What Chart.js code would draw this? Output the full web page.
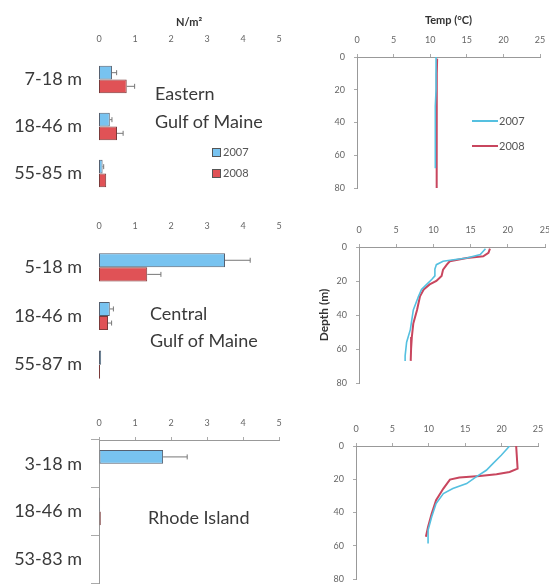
<!DOCTYPE html>
<html>
<head>
<meta charset="utf-8">
<script src="https://cdn.jsdelivr.net/npm/chart.js@4.4.0/dist/chart.umd.min.js"></script>
<style>
body { margin: 0; background: #fff; width: 549px; height: 586px; position: relative; overflow: hidden; font-family: Lato, sans-serif; }
canvas { position: absolute; }
.note { position: absolute; font-size: 18px; color: #3a3a3a; line-height: 1; white-space: nowrap; }
.leg { position: absolute; font-size: 11px; color: #555; line-height: 1; white-space: nowrap; }
.sq { display: inline-block; width: 7px; height: 7px; border: 1px solid #555; vertical-align: -1px; margin-right: 2px; }
.ln { display: inline-block; width: 26px; height: 2px; vertical-align: 3px; margin-right: 1px; }
</style>
</head>
<body>
<canvas id="east" width="290" height="200" style="left:0;top:0"></canvas>
<canvas id="central" width="290" height="192" style="left:0;top:200px"></canvas>
<canvas id="rhode" width="290" height="191" style="left:0;top:395px"></canvas>
<canvas id="eastT" width="249" height="195" style="left:300px;top:0"></canvas>
<canvas id="centralT" width="249" height="190" style="left:300px;top:200px"></canvas>
<canvas id="rhodeT" width="249" height="191" style="left:300px;top:395px"></canvas>

<div class="note" style="left:155px;top:84px">Eastern</div>
<div class="note" style="left:155px;top:112px">Gulf of Maine</div>
<div class="note" style="left:150px;top:304px">Central</div>
<div class="note" style="left:150px;top:331px">Gulf of Maine</div>
<div class="note" style="left:148px;top:508px">Rhode Island</div>

<div class="leg" style="left:212px;top:146px"><span class="sq" style="background:#78c3f0"></span>2007</div>
<div class="leg" style="left:212px;top:167px"><span class="sq" style="background:#e05256"></span>2008</div>
<div class="leg" style="left:472px;top:115px"><span class="ln" style="background:#55c0e0"></span>2007</div>
<div class="leg" style="left:472px;top:140px"><span class="ln" style="background:#c8465e"></span>2008</div>

<script>
const years = ['2007', '2008'];
const densityTicks = [0, 5];
const tempTicks = [0, 25];
const depthTicks = [0, 80];

// N/m2 by depth stratum
const eastDepths = ['7-18 m', '18-46 m', '55-85 m'];
const east2007 = [0.36, 0.3, 0.1];
const east2008 = [0.77, 0.5, 0.2];
const eastErr2007 = [0.13, 0.06, 0.03];
const eastErr2008 = [0.22, 0.17, 0];

const centralDepths = ['5-18 m', '18-46 m', '55-87 m'];
const central2007 = [3.5, 0.3, 0.06];
const central2008 = [1.34, 0.25, 0.03];
const centralErr2007 = [0.7, 0.1, 0];
const centralErr2008 = [0.38, 0.1, 0];

const rhodeDepths = ['3-18 m', '18-46 m', '53-83 m'];
const rhode2007 = [1.78, 0.03, 0];
const rhode2008 = [0, 0.05, 0];
const rhodeErr2007 = [0.67, 0, 0];
const rhodeErr2008 = [0, 0, 0];

// temperature profiles (depth m, temp C)
const eastDepth2007 = [0, 10, 20, 30, 40, 50, 60, 68];
const eastTemp2007 = [10.8, 10.8, 10.8, 10.7, 10.7, 10.7, 10.7, 10.7];
const eastDepth2008 = [1, 10, 20, 30, 40, 50, 60, 70, 80];
const eastTemp2008 = [10.95, 10.9, 10.9, 10.9, 10.9, 10.85, 10.85, 10.9, 10.9];

const centralDepth2007 = [1, 4.5, 6.5, 7.5, 8.4, 10.4, 13, 17, 19, 22, 25, 29, 37, 48.6, 56, 64, 67];
const centralTemp2007 = [17, 16.3, 14.5, 12.7, 11.3, 10.4, 10.2, 10.2, 9.8, 9.1, 8.4, 8.0, 7.3, 6.9, 6.4, 6.2, 6.2];
const centralDepth2008 = [1, 3.5, 5.5, 6.5, 8.4, 10.4, 13.3, 17, 20, 22, 25, 29, 37, 45, 53, 60, 67];
const centralTemp2008 = [17.6, 17.4, 16.7, 14.5, 12.2, 11.8, 11.3, 11.1, 10.4, 9.5, 8.7, 8.2, 7.8, 7.3, 7.1, 7.0, 6.95];

const rhodeDepth2007 = [0, 5.6, 10.6, 14.6, 18.6, 22.6, 25.6, 28.6, 34.6, 42.6, 50.6, 56.6, 58.6];
const rhodeTemp2007 = [21.1, 19.95, 18.8, 17.9, 16.5, 15.2, 13.3, 12.0, 11.0, 10.4, 9.9, 9.9, 9.9];
const rhodeDepth2008 = [0, 13.6, 15.6, 17, 18, 19, 20.2, 25.6, 32.6, 40.6, 48.6, 52.6, 54.6];
const rhodeTemp2008 = [22.0, 22.2, 21.1, 19.3, 17.0, 14.2, 12.9, 12.0, 11.0, 10.4, 9.9, 9.7, 9.6];

const blue = '#78c3f0', red = '#e05256';
const line07 = '#55c0e0', line08 = '#c8465e';
const tickFont = { family: 'Lato', size: 9 };

// draws whiskers to the right of each bar
const errorBars = {
  id: 'errorBars',
  afterDatasetsDraw(chart) {
    const ctx = chart.ctx;
    const xs = chart.scales.x;
    chart.data.datasets.forEach((ds, i) => {
      if (!ds.errors) return;
      chart.getDatasetMeta(i).data.forEach((bar, j) => {
        const e = ds.errors[j];
        if (!e) return;
        const x0 = xs.getPixelForValue(ds.data[j]);
        const x1 = xs.getPixelForValue(ds.data[j] + e);
        ctx.save();
        ctx.strokeStyle = '#777';
        ctx.lineWidth = 1;
        ctx.beginPath();
        ctx.moveTo(x0, bar.y);
        ctx.lineTo(x1, bar.y);
        ctx.moveTo(x1, bar.y - 2.5);
        ctx.lineTo(x1, bar.y + 2.5);
        ctx.stroke();
        ctx.restore();
      });
    });
  }
};

// fixed axis sizes so the plot areas line up with the picture
function fixX(h) {
  return s => { s.height = h; s.paddingLeft = 0; s.paddingRight = 0; };
}
function fixY(w) {
  return s => { s.width = w; s.paddingTop = 0; s.paddingBottom = 0; };
}

function barChart(id, labels, d07, d08, e07, e08, axisH, axes, title) {
  new Chart(document.getElementById(id), {
    type: 'bar',
    data: {
      labels: labels,
      datasets: [
        { label: years[0], data: d07, errors: e07, backgroundColor: blue, borderColor: '#556070', borderWidth: 1, borderSkipped: false },
        { label: years[1], data: d08, errors: e08, backgroundColor: red, borderColor: '#7a3a3a', borderWidth: 1, borderSkipped: false }
      ]
    },
    options: {
      indexAxis: 'y',
      responsive: false,
      animation: false,
      devicePixelRatio: 1,
      categoryPercentage: 0.58,
      barPercentage: 1,
      layout: { padding: { right: 11, bottom: 3, left: 0, top: 0 } },
      plugins: { legend: { display: false }, tooltip: { enabled: false } },
      scales: {
        x: {
          position: 'top', min: densityTicks[0], max: densityTicks[1],
          ticks: { stepSize: 1, font: tickFont, color: '#666', padding: axes ? 9 : 12 },
          grid: { display: axes, drawOnChartArea: false, drawTicks: axes, tickLength: 3, color: '#aaa' },
          border: { display: axes, color: '#999' },
          title: { display: !!title, text: title, font: { family: 'Lato', size: 11, weight: 'bold' }, color: '#333', padding: { top: 16, bottom: 0 } },
          afterFit: fixX(axisH)
        },
        y: {
          ticks: { font: { family: 'Lato', size: 18 }, color: '#3a3a3a', padding: axes ? 9 : 17 },
          grid: { display: axes, drawOnChartArea: false, drawTicks: axes, tickLength: 8, color: '#aaa' },
          border: { display: axes, color: '#999' },
          afterFit: fixY(99)
        }
      }
    },
    plugins: [errorBars]
  });
}

function pts(temps, depths) {
  return temps.map((t, i) => ({ x: t, y: depths[i] }));
}

function tempChart(id, p07, p08, axisH, yW, chartRight, xTitle, yTitle) {
  new Chart(document.getElementById(id), {
    type: 'scatter',
    data: {
      datasets: [
        { label: years[0], data: p07, showLine: true, borderColor: line07, borderWidth: 1.6, pointRadius: 0, tension: 0 },
        { label: years[1], data: p08, showLine: true, borderColor: line08, borderWidth: 2, pointRadius: 0, tension: 0 }
      ]
    },
    options: {
      responsive: false,
      animation: false,
      devicePixelRatio: 1,
      layout: { padding: { right: chartRight, bottom: 7, left: 0, top: 0 } },
      plugins: { legend: { display: false }, tooltip: { enabled: false } },
      scales: {
        x: {
          position: 'top', min: tempTicks[0], max: tempTicks[1],
          ticks: { stepSize: 5, font: tickFont, color: '#666', padding: 9 },
          grid: { drawOnChartArea: false, tickLength: 3, color: '#aaa' },
          border: { color: '#999' },
          title: { display: !!xTitle, text: xTitle, font: { family: 'Lato', size: 11, weight: 'bold' }, color: '#333', padding: { top: 14, bottom: 0 } },
          afterFit: fixX(axisH)
        },
        y: {
          reverse: true, min: depthTicks[0], max: depthTicks[1],
          ticks: { stepSize: 20, font: tickFont, color: '#666', padding: 9 },
          grid: { drawOnChartArea: false, tickLength: 3, color: '#aaa' },
          border: { color: '#999' },
          title: { display: !!yTitle, text: yTitle, font: { family: 'Lato', size: 12, weight: 'bold' }, color: '#333', padding: { top: 17, bottom: 0 } },
          afterFit: fixY(yW)
        }
      }
    }
  });
}

barChart('east', eastDepths, east2007, east2008, eastErr2007, eastErr2008, 56, false, 'N/m²');
barChart('central', centralDepths, central2007, central2008, centralErr2007, centralErr2008, 43, false, '');
barChart('rhode', rhodeDepths, rhode2007, rhode2008, rhodeErr2007, rhodeErr2008, 45, true, '');

tempChart('eastT', pts(eastTemp2007, eastDepth2007), pts(eastTemp2008, eastDepth2008), 57, 57, 9, 'Temp (°C)', '');
tempChart('centralT', pts(centralTemp2007, centralDepth2007), pts(centralTemp2008, centralDepth2008), 47, 59, 4, '', 'Depth (m)');
tempChart('rhodeT', pts(rhodeTemp2007, rhodeDepth2007), pts(rhodeTemp2008, rhodeDepth2008), 51, 56, 11, '', '');
</script>
</body>
</html>
